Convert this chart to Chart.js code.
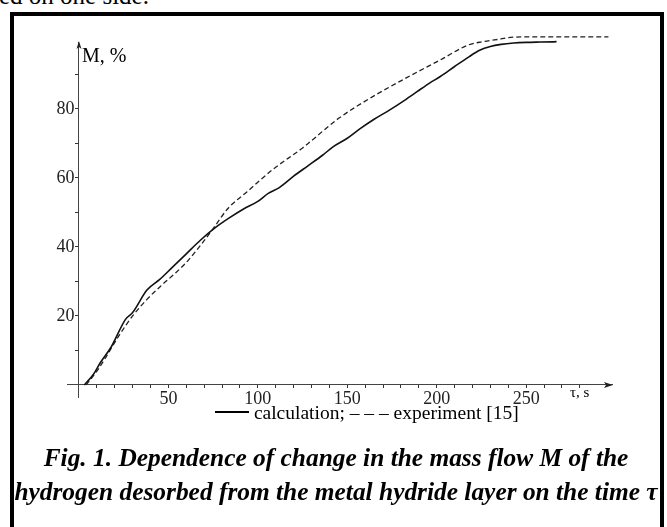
<!DOCTYPE html>
<html lang="en">
<head>
<meta charset="UTF-8">
<title>Mass flow of desorbed hydrogen</title>
<script src="https://cdn.jsdelivr.net/npm/chart.js@4"></script>
<style>
    body {
        margin: 0;
        width: 667px;
        height: 527px;
        overflow: hidden;
        position: relative;
        background: #fff;
        color: #000;
        font-family: "Liberation Serif", "Times New Roman", serif;
    }
    .frame {
        position: absolute;
        left: 10px;
        top: 12px;
        width: 654px;
        height: 540px;
        border: 4px solid #000;
        box-sizing: border-box;
    }
    #chart { position: absolute; left: 0; top: 0; }
    .cut {
        position: absolute;
        left: -1px;
        top: -19px;
        font-size: 25px;
        line-height: 30px;
        white-space: nowrap;
    }
    .ylab { position: absolute; left: 82px; top: 44px; font-size: 20px; line-height: 22px; }
    .xlab { position: absolute; left: 570px; top: 384px; font-size: 15px; line-height: 17px; }
    .legend {
        position: absolute;
        left: 215px;
        top: 400px;
        font-size: 19.5px;
        line-height: 26px;
        white-space: nowrap;
    }
    .legend .solid {
        display: inline-block;
        width: 34px;
        height: 2px;
        background: #000;
        vertical-align: 6px;
    }
    .caption {
        position: absolute;
        left: 8px;
        width: 656px;
        top: 440px;
        text-align: center;
        font-weight: bold;
        font-style: italic;
        font-size: 25.4px;
        line-height: 34px;
        white-space: nowrap;
    }
</style>
</head>
<body>
    <div class="cut">ed on one side.</div>
    <div class="frame"></div>
    <canvas id="chart" width="667" height="527"></canvas>
    <div class="ylab">M, %</div>
    <div class="xlab">τ, s</div>
    <div class="legend"><span class="solid"></span> calculation; – – – experiment [15]</div>
    <div class="caption">Fig. 1. Dependence of change in the mass flow M of the<br>hydrogen desorbed from the metal hydride layer on the time τ</div>

<script>
    // calculation (solid)
    const calcTime = [3, 8, 12, 18, 26, 30, 38, 45, 52, 60, 68, 76, 84, 92, 100, 106, 112, 120, 128, 136, 142, 150, 157, 165, 174, 182, 189, 196, 202, 210, 218, 224, 230, 236, 243, 250, 258, 267];
    const calcMass = [0, 3, 6.5, 11, 19, 21, 27.5, 30.5, 34, 38, 42, 45.5, 48.4, 51, 53.2, 55.6, 57.2, 60.5, 63.5, 66.5, 69, 71.5, 74.2, 77, 79.8, 82.5, 85, 87.5, 89.4, 92.3, 95.1, 97, 98.1, 98.7, 99.1, 99.3, 99.4, 99.5];

    // experiment [15] (dashed)
    const expTime = [4, 10, 15, 22, 30, 38, 46, 53, 60, 68, 76, 83, 94, 108, 125, 145, 164, 183, 202, 218, 226, 235, 243, 260, 296];
    const expMass = [0, 4, 8, 14, 20, 24.8, 28.8, 32, 35.5, 40.5, 46, 51, 56, 62.3, 68.7, 77.2, 83.5, 89, 94.2, 98.6, 99.5, 100.2, 100.8, 100.9, 100.9];

    const xTickLabels = [50, 100, 150, 200, 250];
    const yTickLabels = [20, 40, 60, 80];

    function pairs(xs, ys) {
        return xs.map((v, i) => ({ x: v, y: ys[i] }));
    }

    const tickFont = { family: "'Liberation Serif', 'Times New Roman', serif", size: 18 };
    const minorColor = c => (c.tick && c.tick.value > 0 && Math.abs(c.tick.value % 10) < 1e-6) ? '#333' : 'rgba(0,0,0,0)';
    const isLabel = (v, list) => Math.abs(v - Math.round(v)) < 1e-6 && list.includes(Math.round(v));

    // arrow heads at the ends of both axes
    const axisArrows = {
        id: 'axisArrows',
        afterDraw(chart) {
            const { ctx, scales: { x, y } } = chart;
            const x0 = x.getPixelForValue(0), y0 = y.getPixelForValue(0);
            const xe = x.getPixelForValue(x.max), ye = y.getPixelForValue(y.max);
            ctx.save();
            ctx.fillStyle = '#222';
            ctx.beginPath();
            ctx.moveTo(xe + 1, y0);
            ctx.lineTo(xe - 8, y0 - 3);
            ctx.lineTo(xe - 6, y0);
            ctx.lineTo(xe - 8, y0 + 3);
            ctx.closePath();
            ctx.fill();
            ctx.beginPath();
            ctx.moveTo(x0, ye - 1);
            ctx.lineTo(x0 - 2.5, ye + 7);
            ctx.lineTo(x0, ye + 5);
            ctx.lineTo(x0 + 2.5, ye + 7);
            ctx.closePath();
            ctx.fill();
            ctx.restore();
        }
    };

    new Chart(document.getElementById('chart'), {
        type: 'line',
        data: {
            datasets: [
                {
                    label: 'calculation',
                    data: pairs(calcTime, calcMass),
                    borderColor: '#111',
                    borderWidth: 1.6,
                    pointRadius: 0,
                    cubicInterpolationMode: 'monotone',
                    clip: false,
                    fill: false
                },
                {
                    label: 'experiment [15]',
                    data: pairs(expTime, expMass),
                    borderColor: '#222',
                    borderWidth: 1.3,
                    borderDash: [5, 3],
                    pointRadius: 0,
                    cubicInterpolationMode: 'monotone',
                    clip: false,
                    fill: false
                }
            ]
        },
        options: {
            responsive: false,
            animation: false,
            layout: { padding: { left: 67, right: 55, top: 42, bottom: 130 } },
            plugins: { legend: { display: false }, tooltip: { enabled: false } },
            scales: {
                x: {
                    type: 'linear',
                    min: -6.7,
                    max: 298,
                    position: { y: 0 },
                    border: { color: '#444', width: 1 },
                    grid: { drawOnChartArea: false, tickLength: 3, color: minorColor },
                    ticks: {
                        stepSize: 10,
                        autoSkip: false,
                        maxRotation: 0,
                        padding: 1,
                        font: tickFont,
                        color: '#222',
                        callback: v => isLabel(v, xTickLabels) ? String(Math.round(v)) : ''
                    }
                },
                y: {
                    type: 'linear',
                    min: -3.5,
                    max: 99.4,
                    position: { x: 0 },
                    border: { color: '#444', width: 1 },
                    grid: { drawOnChartArea: false, tickLength: 3, color: minorColor },
                    ticks: {
                        stepSize: 10,
                        autoSkip: false,
                        padding: 2,
                        font: tickFont,
                        color: '#222',
                        callback: v => isLabel(v, yTickLabels) ? Math.round(v) + ' ' : ''
                    }
                }
            }
        },
        plugins: [axisArrows]
    });
</script>
</body>
</html>
